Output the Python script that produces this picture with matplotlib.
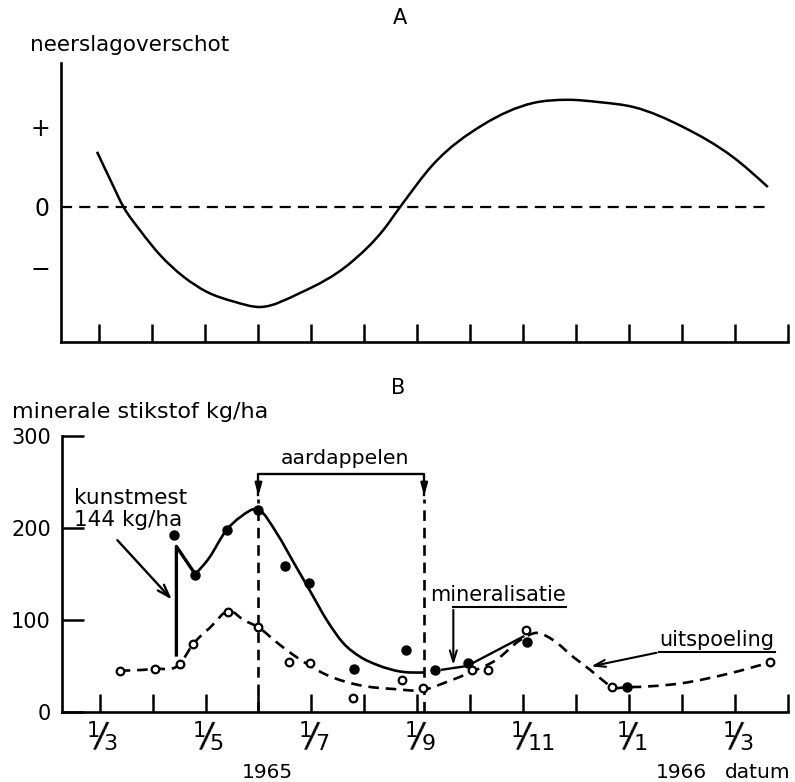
import numpy as np
import matplotlib
matplotlib.use('Agg')
import matplotlib.pyplot as plt
import matplotlib.transforms as mtransforms
from matplotlib.path import Path
from matplotlib.patches import PathPatch

# x unit: months after 1 March 1965
# A: precipitation surplus (relative units, 0 = balance)
a_month = [-0.04, 0.21, 0.46, 0.77, 1.15, 1.59, 2.03, 2.53, 3.04, 3.79, 4.74,
           5.36, 5.68, 6.30, 7.25, 8.19, 8.83, 9.45, 10.08, 11.02, 11.96, 12.62]
a_value = [0.69, 0.34, 0.0, -0.29, -0.60, -0.87, -1.06, -1.18, -1.25, -1.075, -0.70,
           -0.29, 0.0, 0.53, 1.03, 1.30, 1.34, 1.31, 1.25, 1.0, 0.625, 0.25]

# B: mineral nitrogen kg/ha, measured points
filled_month = [1.40, 1.81, 2.40, 3.00, 3.51, 3.96, 4.81, 5.79, 6.34, 6.96, 8.08, 9.96]
filled_val = [192, 149, 198, 220, 159, 140, 47, 67, 46, 53, 76, 27]
open_month = [0.38, 1.04, 1.51, 1.77, 2.43, 3.00, 3.57, 3.98, 4.79, 5.72,
              6.11, 7.04, 7.34, 8.06, 9.68, 12.66]
open_val = [45, 47, 52, 74, 109, 92, 54, 53, 15, 35, 26, 46, 46, 89, 27, 54]

# fitted lines
fert_month = [1.45, 1.45, 1.78]
fert_val = [62, 180, 152]
solid_month = [1.81, 2.05, 2.40, 2.66, 3.00, 3.36, 3.66, 3.98, 4.30, 4.60,
               4.92, 5.25, 5.68, 6.13]
solid_val = [150, 166, 198, 212, 220, 193, 163, 131, 99, 75, 60, 51, 44, 43]
minl_month = [6.47, 6.94, 8.00]
minl_val = [46, 50, 82]
dash_month = [0.38, 1.04, 1.51, 1.77, 2.09, 2.45, 2.72, 3.00, 3.36, 3.66, 4.30,
              4.92, 5.55, 6.11, 6.57, 7.00, 7.50, 7.94, 8.26, 8.57, 8.94, 9.26,
              9.49, 9.68, 9.96, 10.96, 11.90, 12.66]
dash_val = [45, 47, 52, 74, 92, 110, 100, 92, 75, 62, 40, 29, 25, 24, 33, 43,
            57, 78, 86, 78, 60, 46, 35, 27, 27, 31, 42, 54]

tick_months = list(range(14))
label_months = [0, 2, 4, 6, 8, 10, 12]
label_num = ['1', '1', '1', '1', '1', '1', '1']
label_den = ['3', '5', '7', '9', '11', '1', '3']
y_ticks = [0, 100, 200, 300]

potato_start, potato_end = 3.0, 6.13

W, H = 795, 782
plt.rcParams['font.family'] = ['DejaVu Sans']


def px(x, y):
    return x / W, 1 - y / H


def curve(ax, xs, ys, **kw):
    # smooth line through the points: cubic Hermite pieces drawn as Bezier
    x = np.asarray(xs, float)
    y = np.asarray(ys, float)
    h = np.diff(x)
    s = np.diff(y) / h
    d = np.empty_like(y)
    d[1:-1] = (h[1:] * s[:-1] + h[:-1] * s[1:]) / (h[:-1] + h[1:])
    d[0] = 1.5 * s[0] - 0.5 * d[1]
    d[-1] = 1.5 * s[-1] - 0.5 * d[-2]
    verts = [(x[0], y[0])]
    codes = [Path.MOVETO]
    for i in range(len(h)):
        verts += [(x[i] + h[i] / 3, y[i] + d[i] * h[i] / 3),
                  (x[i + 1] - h[i] / 3, y[i + 1] - d[i + 1] * h[i] / 3),
                  (x[i + 1], y[i + 1])]
        codes += [Path.CURVE4] * 3
    ax.add_patch(PathPatch(Path(verts, codes), fill=False, capstyle='butt', **kw))


def style_axes(ax):
    for s in ('top', 'right'):
        ax.spines[s].set_visible(False)
    for s in ('left', 'bottom'):
        ax.spines[s].set_linewidth(1.9)
    ax.set_xticks(tick_months)
    ax.set_xticklabels([])
    ax.tick_params(axis='x', direction='in', length=13, width=1.8)


fig = plt.figure(figsize=(W / 100, H / 100), dpi=100)

# ---- A ----
x0, y0 = px(61, 342)
ax_a = fig.add_axes([x0, y0, (788 - 61) / W, (342 - 63) / H])
style_axes(ax_a)
ax_a.set_xlim(-0.72, 13.0)
ax_a.set_ylim(-1.6875, 1.8)
ax_a.set_yticks([1, 0, -0.75])
ax_a.set_yticklabels(['+', '0', '\u2212'], fontsize=17)
ax_a.tick_params(axis='y', length=0, pad=8)
ax_a.plot([-0.72, 12.62], [0, 0], color='black', lw=1.6, ls=(0, (5, 3.2)))
curve(ax_a, a_month, a_value, lw=1.8, edgecolor='black')

fig.text(*px(30, 45), 'neerslagoverschot', fontsize=15.5, va='center', ha='left')
fig.text(*px(400, 18), 'A', fontsize=15, va='center', ha='center')

# ---- B ----
x0, y0 = px(62, 712)
ax_b = fig.add_axes([x0, y0, (788 - 62) / W, (712 - 436) / H])
style_axes(ax_b)
ax_b.set_xlim(-0.71, 13.0)
ax_b.set_ylim(0, 300)
ax_b.set_yticks(y_ticks)
ax_b.set_yticklabels([str(v) for v in y_ticks], fontsize=15)
ax_b.tick_params(axis='y', direction='in', length=16, width=1.8, pad=8)

# date labels written as 1/month fractions
base = mtransforms.blended_transform_factory(ax_b.transData, fig.transFigure)
t_num = mtransforms.offset_copy(base, fig=fig, x=-6, y=0, units='dots')
t_sl = mtransforms.offset_copy(base, fig=fig, x=1, y=0, units='dots')
t_den = mtransforms.offset_copy(base, fig=fig, x=4, y=0, units='dots')
for m, num, den in zip(label_months, label_num, label_den):
    fig.text(m, px(0, 731)[1], num, transform=t_num, fontsize=15, ha='center', va='center')
    fig.text(m, px(0, 737)[1], '/', transform=t_sl, fontsize=25, ha='center', va='center',
             rotation=-9)
    fig.text(m, px(0, 744)[1], den, transform=t_den, fontsize=16, ha='left', va='center')

curve(ax_b, solid_month, solid_val, lw=1.9, edgecolor='black')
ax_b.plot(fert_month, fert_val, color='black', lw=2.4)
ax_b.plot(minl_month, minl_val, color='black', lw=1.7)
curve(ax_b, dash_month, dash_val, lw=1.9, edgecolor='black', ls=(0, (4, 2.6)))
ax_b.plot(filled_month, filled_val, 'o', ms=6.5, color='black', zorder=5)
ax_b.plot(open_month, open_val, 'o', ms=5.5, mfc='white', mec='black', mew=1.6, zorder=5)

# potato period
ax_b.plot([potato_start, potato_start, potato_end, potato_end], [236, 259, 259, 236],
          color='black', lw=1.7)
for xm in (potato_start, potato_end):
    ax_b.annotate('', xy=(xm, 232), xytext=(xm, 250),
                  arrowprops=dict(arrowstyle='-|>,head_width=0.2,head_length=0.7',
                                  color='black', lw=1.7))
    ax_b.plot([xm, xm], [0, 232], color='black', lw=1.9, ls=(0, (4, 2.6)))
ax_b.text((potato_start + potato_end) / 2 + 0.06, 276, 'aardappelen', fontsize=14.7,
          ha='center', va='center')

# fertiliser
ax_b.text(-0.49, 233, 'kunstmest', fontsize=15.5, ha='left', va='center')
ax_b.text(-0.49, 209, '144 kg/ha', fontsize=15.5, ha='left', va='center')
ax_b.annotate('', xy=(1.40, 120), xytext=(0.30, 189),
              arrowprops=dict(arrowstyle='->,head_width=0.3,head_length=0.9',
                              color='black', lw=1.7))

# mineralisation
ax_b.text(6.25, 127, 'mineralisatie', fontsize=15, ha='left', va='center')
ax_b.plot([6.68, 8.81], [114, 114], color='black', lw=1.5)
ax_b.annotate('', xy=(6.68, 48), xytext=(6.68, 114),
              arrowprops=dict(arrowstyle='->,head_width=0.25,head_length=0.8',
                              color='black', lw=1.5))

# leaching
ax_b.text(10.57, 78, 'uitspoeling', fontsize=15, ha='left', va='center')
ax_b.plot([10.57, 12.75], [65, 65], color='black', lw=1.5)
ax_b.annotate('', xy=(9.23, 49), xytext=(10.57, 65),
              arrowprops=dict(arrowstyle='->,head_width=0.25,head_length=0.8',
                              color='black', lw=1.5))

fig.text(*px(12, 412), 'minerale stikstof kg/ha', fontsize=16, va='center', ha='left')
fig.text(*px(398, 388), 'B', fontsize=15, va='center', ha='center')
fig.text(*px(267, 772), '1965', fontsize=14.5, va='center', ha='center')
fig.text(*px(681, 772), '1966', fontsize=14.5, va='center', ha='center')
fig.text(*px(758, 772), 'datum', fontsize=14.5, va='center', ha='center')

fig.savefig('out.png', dpi=100)
